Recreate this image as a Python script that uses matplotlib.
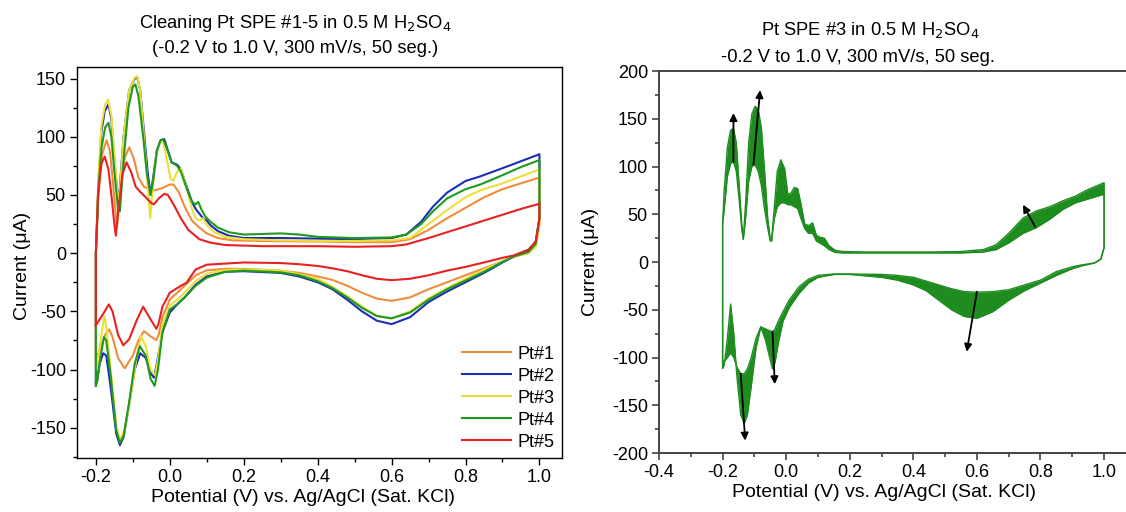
import numpy as np
import matplotlib
matplotlib.use('Agg')
import matplotlib.pyplot as plt
from matplotlib.ticker import MultipleLocator

plt.rcParams['font.family'] = ['Liberation Sans', 'DejaVu Sans']
plt.rcParams['axes.unicode_minus'] = False

# ---- left panel: last CV of each electrode (E in V, I in uA) ----
# anodic sweep -0.2 -> 1.0, cathodic sweep 1.0 -> -0.2
pt1_an_E = [-0.200, -0.200, -0.193, -0.183, -0.171, -0.162, -0.155, -0.148, -0.143, -0.135, -0.122, -0.110, -0.098,
            -0.085, -0.070, -0.055, -0.040, -0.020, 0.000, 0.010, 0.025, 0.040, 0.060, 0.080, 0.100, 0.130, 0.170,
            0.250, 0.400, 0.500, 0.600, 0.650, 0.700, 0.750, 0.800, 0.850, 0.900, 0.950, 1.000]
pt1_an_I = [-90, 0, 50, 85, 97, 88, 65, 40, 22, 50, 82, 91, 82,
            65, 57, 55, 54, 56, 59, 59, 52, 40, 28, 22, 17, 13, 11,
            10.5, 10, 9.5, 9.5, 12, 20, 30, 39, 48, 55, 60, 65]
pt1_cat_E = [1.000, 1.000, 0.990, 0.970, 0.930, 0.900, 0.850, 0.800, 0.750, 0.700, 0.650, 0.600, 0.560, 0.520,
             0.480, 0.440, 0.400, 0.350, 0.300, 0.200, 0.150, 0.100, 0.070, 0.040, 0.020, 0.000, -0.020, -0.030,
             -0.036, -0.050, -0.070, -0.085, -0.100, -0.122, -0.140, -0.155, -0.164, -0.175, -0.190, -0.200]
pt1_cat_I = [65, 25, 6, 0, -3, -7, -13, -19, -25, -31, -38, -41, -39, -34,
             -28, -23, -20, -17, -15, -13.5, -13.5, -14.7, -19, -28, -34, -39.8, -55, -70,
             -74.7, -72, -67, -75, -88, -99, -90, -72, -65.5, -70, -84, -90]

pt2_an_E = [-0.200, -0.200, -0.193, -0.185, -0.176, -0.166, -0.158, -0.150, -0.142, -0.138, -0.125, -0.110, -0.095,
            -0.088, -0.080, -0.070, -0.060, -0.052, -0.045, -0.035, -0.025, -0.015, -0.005, 0.005, 0.020, 0.030,
            0.045, 0.060, 0.070, 0.080, 0.090, 0.100, 0.110, 0.130, 0.160, 0.200, 0.300, 0.400, 0.500, 0.600,
            0.640, 0.680, 0.712, 0.750, 0.800, 0.840, 0.900, 0.950, 1.000]
pt2_an_I = [-112, 0, 60, 105, 122, 128, 115, 80, 52, 45, 100, 140, 150,
            151, 140, 105, 70, 50, 65, 88, 97, 98, 88, 78, 76, 72,
            58, 44, 38, 34, 30, 28, 24, 19, 15, 13, 13, 12.5, 12, 13,
            16, 27, 40, 52, 62, 66, 73, 79, 85]
pt2_cat_E = [1.000, 1.000, 0.990, 0.970, 0.930, 0.900, 0.850, 0.800, 0.750, 0.700, 0.650, 0.600, 0.560, 0.520,
             0.480, 0.440, 0.400, 0.350, 0.300, 0.200, 0.150, 0.100, 0.070, 0.040, 0.020, 0.000, -0.020, -0.035,
             -0.043, -0.052, -0.065, -0.080, -0.095, -0.110, -0.125, -0.135, -0.145, -0.160, -0.172, -0.180,
             -0.190, -0.197, -0.200]
pt2_cat_I = [85, 30, 10, 2, -3, -8, -17, -25, -33, -42, -55, -61, -58, -50,
             -40, -31, -25, -20, -17, -15.5, -16, -20, -27, -38, -44, -51, -68, -95,
             -107, -103, -90, -86, -100, -130, -158, -165, -155, -115, -88, -86,
             -95, -110, -112]

pt3_an_E = [-0.200, -0.200, -0.193, -0.185, -0.175, -0.167, -0.158, -0.150, -0.142, -0.137, -0.125, -0.110, -0.095,
            -0.088, -0.080, -0.070, -0.060, -0.053, -0.045, -0.035, -0.025, -0.018, -0.008, 0.002, 0.009, 0.020,
            0.030, 0.045, 0.060, 0.070, 0.080, 0.090, 0.100, 0.120, 0.150, 0.200, 0.300, 0.400, 0.500, 0.600,
            0.650, 0.700, 0.750, 0.800, 0.840, 0.900, 0.950, 1.000]
pt3_an_I = [-101, 0, 65, 110, 128, 132, 118, 85, 52, 46, 100, 140, 151,
            152, 140, 100, 60, 30, 60, 88, 96, 96, 80, 64, 62, 70,
            73, 57, 38, 30, 28, 30, 24, 18, 14, 12, 11, 10.5, 10.5, 11,
            13, 25, 37, 48, 54, 60, 66, 72]
pt3_cat_E = [1.000, 1.000, 0.990, 0.970, 0.930, 0.900, 0.850, 0.800, 0.750, 0.700, 0.650, 0.600, 0.560, 0.520,
             0.480, 0.440, 0.400, 0.350, 0.300, 0.200, 0.150, 0.100, 0.070, 0.040, 0.020, 0.000, -0.020, -0.032,
             -0.040, -0.052, -0.065, -0.078, -0.090, -0.105, -0.122, -0.135, -0.145, -0.160, -0.172, -0.177,
             -0.185, -0.195, -0.200]
pt3_cat_I = [72, 25, 6, 0, -3, -7, -14, -22, -30, -39, -50, -56, -54, -46,
             -37, -29, -22, -18, -15, -14, -14.5, -17.5, -24, -34, -40, -45, -62, -92,
             -105, -100, -80, -71, -90, -122, -152, -160, -148, -100, -62, -54,
             -70, -95, -101]

pt4_an_E = [-0.200, -0.200, -0.193, -0.185, -0.175, -0.166, -0.158, -0.150, -0.140, -0.135, -0.125, -0.112, -0.100,
            -0.093, -0.085, -0.072, -0.062, -0.052, -0.045, -0.035, -0.025, -0.018, -0.008, 0.005, 0.020, 0.030,
            0.045, 0.060, 0.070, 0.077, 0.085, 0.095, 0.110, 0.130, 0.160, 0.200, 0.250, 0.300, 0.350, 0.400,
            0.500, 0.600, 0.640, 0.680, 0.712, 0.750, 0.800, 0.840, 0.900, 0.950, 1.000]
pt4_an_I = [-114, 0, 55, 90, 108, 112, 100, 70, 38, 36, 80, 125, 143,
            145, 135, 100, 68, 50, 62, 88, 97, 98, 90, 78, 75, 70,
            56, 44, 42, 44, 38, 32, 27, 22, 18, 16, 16.5, 17, 16, 14,
            13, 13.5, 16, 25, 36, 47, 55, 59, 67, 74, 80]
pt4_cat_E = [1.000, 1.000, 0.990, 0.970, 0.930, 0.900, 0.850, 0.800, 0.750, 0.700, 0.650, 0.600, 0.560, 0.520,
             0.480, 0.440, 0.400, 0.350, 0.300, 0.200, 0.150, 0.100, 0.070, 0.040, 0.020, 0.000, -0.020, -0.032,
             -0.041, -0.052, -0.065, -0.081, -0.095, -0.110, -0.125, -0.135, -0.145, -0.160, -0.172, -0.178,
             -0.188, -0.196, -0.200]
pt4_cat_I = [80, 30, 8, 1, -3, -7.5, -16, -23.5, -31, -40, -51, -56, -54, -47,
             -38, -30, -24, -19, -16.5, -15, -16, -21, -28, -38, -44, -48.4, -68, -100,
             -114, -108, -88, -80, -95, -128, -157, -163, -152, -105, -75, -72,
             -90, -110, -114]

pt5_an_E = [-0.200, -0.200, -0.194, -0.185, -0.176, -0.166, -0.158, -0.150, -0.146, -0.140, -0.128, -0.117, -0.105,
            -0.092, -0.081, -0.065, -0.050, -0.043, -0.030, -0.015, -0.005, 0.010, 0.030, 0.050, 0.080, 0.110,
            0.150, 0.250, 0.400, 0.500, 0.600, 0.640, 0.700, 0.800, 0.900, 0.950, 1.000]
pt5_an_I = [-62, 0, 52, 77, 83, 72, 50, 25, 15, 35, 68, 78, 70,
            57, 53, 48, 43, 42, 47, 51, 50, 42, 30, 20, 12, 9,
            7, 6, 6, 5.5, 6, 7.5, 13, 23, 33, 38, 42.5]
pt5_cat_E = [1.000, 1.000, 0.990, 0.970, 0.930, 0.900, 0.850, 0.800, 0.750, 0.700, 0.650, 0.600, 0.560, 0.520,
             0.480, 0.440, 0.400, 0.350, 0.300, 0.200, 0.100, 0.070, 0.045, 0.030, 0.000, -0.020, -0.030, -0.036,
             -0.050, -0.072, -0.090, -0.110, -0.126, -0.140, -0.155, -0.165, -0.180, -0.200]
pt5_cat_I = [42.5, 30, 10, 3, -2, -4, -8, -11.8, -15, -19, -22, -23.2, -22, -19,
             -15.5, -13, -11, -9.5, -8.5, -8, -9.9, -14, -25.5, -28, -34, -46, -60, -65,
             -58, -46, -58, -74, -79.2, -70, -50, -44, -52, -62]

labels = ['Pt#1', 'Pt#2', 'Pt#3', 'Pt#4', 'Pt#5']
colors = ['#f08c3c', '#1a2fb4', '#ecdf3a', '#1f9a1f', '#e62222']

# ---- right panel: Pt SPE #3, envelope of the 50 segments (first / last cycle) ----
sp3_an_E = [-0.200, -0.200, -0.195, -0.185, -0.175, -0.166, -0.157, -0.148, -0.140, -0.135, -0.128, -0.118, -0.108,
            -0.098, -0.088, -0.078, -0.068, -0.058, -0.050, -0.046, -0.038, -0.028, -0.017, -0.005, 0.005, 0.015,
            0.025, 0.036, 0.047, 0.058, 0.070, 0.083, 0.095, 0.105, 0.120, 0.135, 0.155, 0.180, 0.250, 0.350,
            0.450, 0.550, 0.620, 0.660, 0.700, 0.745, 0.787, 0.830, 0.870, 0.910, 0.950, 1.000]
sp3_an_first = [-104, 40, 55, 90, 103, 105, 95, 65, 35, 24, 45, 85, 100,
                102, 95, 80, 55, 35, 22, 22, 45, 58, 62, 62, 60, 60,
                58, 56, 45, 35, 30, 30, 22, 20, 17, 13, 10, 9.5, 9.5, 9.5,
                9.5, 9.5, 10.5, 13, 20, 30, 36, 45, 55, 62, 66, 71]
sp3_an_last = [-111, 40, 75, 120, 138, 140, 125, 80, 40, 24, 60, 125, 155,
               163, 160, 140, 95, 45, 24, 22, 55, 95, 107, 98, 71, 72,
               78, 77, 60, 40, 38, 41, 28, 26, 25, 17, 12, 11, 10.5, 10.5,
               10.5, 11, 13, 18, 30, 46, 53.5, 58, 64, 69, 76, 83]

sp3_cat_E = [1.000, 1.000, 0.990, 0.970, 0.930, 0.900, 0.850, 0.800, 0.750, 0.700, 0.650, 0.600, 0.560, 0.520,
             0.480, 0.440, 0.400, 0.350, 0.300, 0.200, 0.150, 0.100, 0.070, 0.040, 0.009, -0.010, -0.025, -0.035,
             -0.043, -0.052, -0.065, -0.080, -0.095, -0.110, -0.122, -0.132, -0.143, -0.155, -0.165, -0.175,
             -0.185, -0.195, -0.200]
sp3_cat_first = [71, 15, 3, -1, -3, -5, -10, -19, -24, -29, -31, -31.6, -31, -28,
                 -24, -20, -16, -14, -13, -12.5, -12.5, -14, -18, -26, -40, -52, -62, -70,
                 -73, -72, -70, -68, -80, -100, -112, -117, -117, -110, -100, -95,
                 -100, -104, -104]
sp3_cat_last = [83, 15, 3, -1, -4, -7, -14, -22, -30, -40, -52, -59, -57, -50,
                -40, -30, -24, -19, -16, -13, -13, -16, -22, -33, -48, -62, -85, -105,
                -112, -100, -82, -68, -90, -130, -160, -169, -160, -120, -75, -44,
                -80, -108, -111]

# arrows showing growth over cycling: (E_start, I_start, E_end, I_end)
arrows = [(-0.166, 105, -0.166, 156),
          (-0.103, 102, -0.082, 180),
          (-0.043, -73, -0.036, -128),
          (-0.143, -117, -0.129, -187),
          (0.783, 37, 0.745, 60),
          (0.600, -31, 0.568, -94)]

green = '#1e8c1e'
tick_fs = 13
label_fs = 14
title_fs = 13.2
xlabel = 'Potential (V) vs. Ag/AgCl (Sat. KCl)'

fig = plt.figure(figsize=(11.26, 5.12), dpi=100)
ax1 = fig.add_axes([0.0684, 0.1055, 0.4307, 0.7637])
ax2 = fig.add_axes([0.5853, 0.1152, 0.4147, 0.7461])

curves = [(pt1_an_E, pt1_an_I, pt1_cat_E, pt1_cat_I),
          (pt2_an_E, pt2_an_I, pt2_cat_E, pt2_cat_I),
          (pt3_an_E, pt3_an_I, pt3_cat_E, pt3_cat_I),
          (pt4_an_E, pt4_an_I, pt4_cat_E, pt4_cat_I),
          (pt5_an_E, pt5_an_I, pt5_cat_E, pt5_cat_I)]
for (aE, aI, cE, cI), lab, c in zip(curves, labels, colors):
    ax1.plot(aE + cE, aI + cI, color=c, lw=1.5, label=lab, solid_joinstyle='round')

ax1.set_xlim(-0.251, 1.061)
ax1.set_ylim(-176, 160)
ax1.xaxis.set_major_locator(MultipleLocator(0.2))
ax1.xaxis.set_minor_locator(MultipleLocator(0.1))
ax1.yaxis.set_major_locator(MultipleLocator(50))
ax1.yaxis.set_minor_locator(MultipleLocator(25))
ax1.xaxis.set_major_formatter(plt.FuncFormatter(lambda v, p: '%.1f' % v))
ax1.tick_params(which='both', direction='out', top=False, right=False, labelsize=tick_fs, width=1.0, pad=3)
ax1.tick_params(which='major', length=5)
ax1.tick_params(which='minor', length=3)
for s in ax1.spines.values():
    s.set_linewidth(1.0)
ax1.set_xlabel(xlabel, fontsize=label_fs)
ax1.set_ylabel('Current (μA)', fontsize=label_fs)
ax1.xaxis.set_label_coords(0.466, -0.080)
ax1.yaxis.set_label_coords(-0.095, 0.49)
ax1.legend(loc='lower right', bbox_to_anchor=(1.0, 0.0), frameon=False, fontsize=13,
           handlelength=2.7, handletextpad=0.4, labelspacing=0.28, borderaxespad=0.3, borderpad=0.1)

# right panel: band between first and last segment
ax2.fill_between(sp3_an_E, sp3_an_first, sp3_an_last, color=green, lw=0)
ax2.fill_between(sp3_cat_E, sp3_cat_first, sp3_cat_last, color=green, lw=0)
ax2.plot(sp3_an_E + sp3_cat_E, sp3_an_first + sp3_cat_first, color=green, lw=1.0)
ax2.plot(sp3_an_E + sp3_cat_E, sp3_an_last + sp3_cat_last, color=green, lw=1.0)

for x0, y0, x1, y1 in arrows:
    ax2.annotate('', xy=(x1, y1), xytext=(x0, y0),
                 arrowprops=dict(arrowstyle='-|>', color='black', lw=1.3, mutation_scale=11,
                                 shrinkA=0, shrinkB=0))

ax2.set_xlim(-0.4, 1.069)
ax2.set_ylim(-200, 200)
ax2.xaxis.set_major_locator(MultipleLocator(0.2))
ax2.xaxis.set_minor_locator(MultipleLocator(0.1))
ax2.yaxis.set_major_locator(MultipleLocator(50))
ax2.yaxis.set_minor_locator(MultipleLocator(25))
ax2.xaxis.set_major_formatter(plt.FuncFormatter(lambda v, p: '%.1f' % v))
ax2.tick_params(which='both', direction='out', top=False, right=False, labelsize=tick_fs,
                width=1.2, color='#444444', pad=3)
ax2.tick_params(which='major', length=5)
ax2.tick_params(which='minor', length=3)
ax2.spines['right'].set_visible(False)
for s in ('left', 'bottom', 'top'):
    ax2.spines[s].set_linewidth(1.4)
    ax2.spines[s].set_color('#444444')
ax2.set_xlabel(xlabel, fontsize=label_fs)
ax2.set_ylabel('Current (μA)', fontsize=label_fs)
ax2.xaxis.set_label_coords(0.482, -0.082)
ax2.yaxis.set_label_coords(-0.128, 0.5)

# titles
fig.text(0.262, 0.955, 'Cleaning Pt SPE #1-5 in 0.5 M H$_2$SO$_4$', ha='center', va='center', fontsize=title_fs)
fig.text(0.262, 0.905, '(-0.2 V to 1.0 V, 300 mV/s, 50 seg.)', ha='center', va='center', fontsize=title_fs)
fig.text(0.773, 0.942, 'Pt SPE #3 in 0.5 M H$_2$SO$_4$', ha='center', va='center', fontsize=title_fs)
fig.text(0.762, 0.887, '-0.2 V to 1.0 V, 300 mV/s, 50 seg.', ha='center', va='center', fontsize=title_fs)

fig.savefig('out.png', dpi=100)
